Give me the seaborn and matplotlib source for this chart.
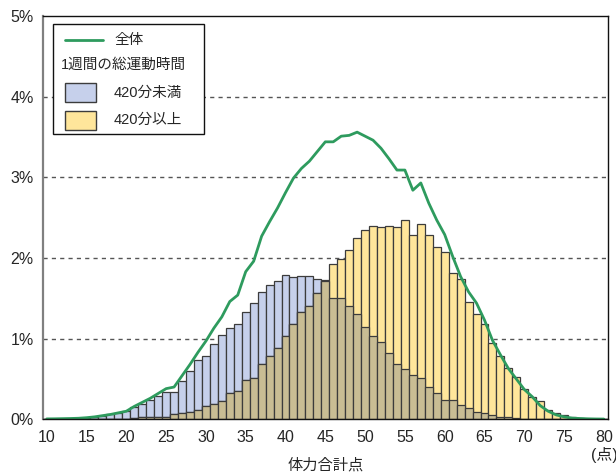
import matplotlib
matplotlib.use("Agg")
import matplotlib.pyplot as plt
import matplotlib.patches as mpatches
import matplotlib.lines as mlines
import numpy as np
import pandas as pd
import seaborn as sns

# ---- data (share of respondents, %) ----
points = list(range(10, 81))
under420 = [0.002, 0.003, 0.005, 0.008, 0.010, 0.013, 0.025, 0.040, 0.062, 0.080,
            0.097, 0.15, 0.19, 0.235, 0.29, 0.34, 0.34, 0.47, 0.60, 0.73,
            0.78, 0.93, 1.05, 1.13, 1.18, 1.33, 1.44, 1.58, 1.67, 1.72,
            1.79, 1.77, 1.78, 1.78, 1.74, 1.72, 1.51, 1.51, 1.41, 1.31,
            1.15, 1.03, 0.96, 0.82, 0.69, 0.62, 0.55, 0.51, 0.40, 0.33,
            0.24, 0.24, 0.18, 0.14, 0.095, 0.074, 0.053, 0.033, 0.025, 0.012,
            0.006, 0.004, 0.003, 0.002, 0.002, 0.001, 0.001, 0.001, 0.0, 0.0, 0.0]
over420 = [0.001, 0.001, 0.001, 0.002, 0.002, 0.002, 0.003, 0.003, 0.004, 0.005,
           0.006, 0.012, 0.03, 0.025, 0.025, 0.03, 0.06, 0.08, 0.085, 0.115,
           0.17, 0.19, 0.23, 0.33, 0.355, 0.49, 0.51, 0.69, 0.78, 0.88,
           1.03, 1.18, 1.33, 1.41, 1.56, 1.73, 1.92, 1.985, 2.10, 2.25,
           2.35, 2.40, 2.39, 2.40, 2.38, 2.47, 2.28, 2.42, 2.28, 2.14,
           2.07, 1.81, 1.74, 1.45, 1.31, 1.18, 0.95, 0.79, 0.63, 0.52,
           0.38, 0.28, 0.23, 0.12, 0.074, 0.055, 0.025, 0.012, 0.005, 0.002, 0.001]
total = [0.005, 0.006, 0.008, 0.010, 0.013, 0.020, 0.030, 0.045, 0.060, 0.080,
         0.10, 0.16, 0.21, 0.26, 0.32, 0.38, 0.40, 0.54, 0.68, 0.83,
         0.97, 1.13, 1.27, 1.46, 1.54, 1.83, 1.96, 2.27, 2.45, 2.62,
         2.81, 2.99, 3.11, 3.20, 3.32, 3.44, 3.44, 3.51, 3.52, 3.56,
         3.51, 3.46, 3.36, 3.23, 3.09, 3.09, 2.84, 2.93, 2.68, 2.47,
         2.29, 2.02, 1.77, 1.58, 1.44, 1.23, 0.98, 0.80, 0.63, 0.50,
         0.37, 0.28, 0.17, 0.10, 0.055, 0.030, 0.015, 0.010, 0.006, 0.004, 0.003]

x_ticks = list(range(10, 81, 5))
y_ticks = [0, 1, 2, 3, 4, 5]
y_ticklabels = ["0%", "1%", "2%", "3%", "4%", "5%"]
legend_labels = ["全体", "1週間の総運動時間", "420分未満", "420分以上"]
xlabel = "体力合計点"
unit_label = "(点)"

df = pd.DataFrame({"point": points, "under": under420, "over": over420, "total": total})
df["overlap"] = np.minimum(df["under"], df["over"])

# ---- style ----
sns.set_style("white")
plt.rcParams["font.family"] = ["Liberation Sans", "Noto Sans CJK JP", "DejaVu Sans"]

C_BLUE = "#c6d0eb"
C_YEL = "#ffe69b"
C_OLIVE = "#c9bd94"
C_GREEN = "#2e9b5e"
C_EDGE = "#3c3c3c"

fig = plt.figure(figsize=(6.16, 4.74), dpi=100)
ax = fig.add_axes([43.3 / 616, 1 - 419.3 / 474, 564.4 / 616, 403.3 / 474])

common = dict(native_scale=True, width=1.0, saturation=1, errorbar=None,
              edgecolor=C_EDGE, linewidth=0.9, orient="x", ax=ax)
sns.barplot(data=df, x="point", y="under", color=C_BLUE, zorder=2, **common)
sns.barplot(data=df, x="point", y="over", color=C_YEL, zorder=3, **common)
sns.barplot(data=df, x="point", y="overlap", color=C_OLIVE, zorder=4, **common)
sns.lineplot(data=df, x="point", y="total", color=C_GREEN, linewidth=2.0, ax=ax, zorder=6)

ax.set_xlim(9.57, 80.48)
ax.set_ylim(0, 5)
ax.set_xticks(x_ticks)
ax.set_xticklabels([str(t) for t in x_ticks], fontsize=11.5)
ax.set_yticks(y_ticks)
ax.set_yticklabels(y_ticklabels, fontsize=11.5)
ax.tick_params(axis="x", direction="out", length=4, width=1.2, color="#777777", pad=4)
ax.tick_params(axis="y", length=0, pad=7)

for yv in [1, 2, 3, 4]:
    ax.axhline(yv, color="#555555", linewidth=1.0, linestyle=(0, (3, 3)), zorder=1)

for side in ["top", "right", "bottom"]:
    ax.spines[side].set_color("#111111")
    ax.spines[side].set_linewidth(1.0)
    ax.spines[side].set_visible(True)
ax.spines["left"].set_color("#808080")
ax.spines["left"].set_linewidth(1.6)
ax.spines["left"].set_visible(True)
ax.spines["bottom"].set_zorder(7)

ax.set_xlabel(xlabel, fontsize=11)
ax.xaxis.set_label_coords(0.5, -0.113)
ax.xaxis.label.set_va("center")
ax.set_ylabel("")
ax.text(80, -0.088, unit_label, transform=ax.get_xaxis_transform(),
        ha="center", va="center", fontsize=11.5)

# ---- legend box ----
def fx(px):
    return (px - 43.3) / 564.4

def fy(py):
    return (419.3 - py) / 403.3

tr = ax.transAxes
ax.add_patch(mpatches.Rectangle((fx(52.7), fy(134)), fx(204.3) - fx(52.7), fy(24.3) - fy(134),
                                transform=tr, facecolor="white", edgecolor="#111111",
                                linewidth=1.0, zorder=10))
ax.add_line(mlines.Line2D([fx(65), fx(103)], [fy(40), fy(40)], transform=tr,
                          color=C_GREEN, linewidth=2.0, zorder=11))
ax.text(fx(114), fy(40), legend_labels[0], transform=tr, va="center", ha="left",
        fontsize=10.5, zorder=11)
ax.text(fx(60.5), fy(65), legend_labels[1], transform=tr, va="center", ha="left",
        fontsize=10.5, zorder=11)
ax.add_patch(mpatches.Rectangle((fx(65), fy(102)), fx(95.7) - fx(65), fy(83) - fy(102),
                                transform=tr, facecolor=C_BLUE, edgecolor=C_EDGE,
                                linewidth=1.0, zorder=11))
ax.text(fx(114), fy(93), legend_labels[2], transform=tr, va="center", ha="left",
        fontsize=10.5, zorder=11)
ax.add_patch(mpatches.Rectangle((fx(65), fy(130)), fx(95.7) - fx(65), fy(111) - fy(130),
                                transform=tr, facecolor=C_YEL, edgecolor=C_EDGE,
                                linewidth=1.0, zorder=11))
ax.text(fx(114), fy(119.5), legend_labels[3], transform=tr, va="center", ha="left",
        fontsize=10.5, zorder=11)

fig.savefig("out.png", dpi=100)
